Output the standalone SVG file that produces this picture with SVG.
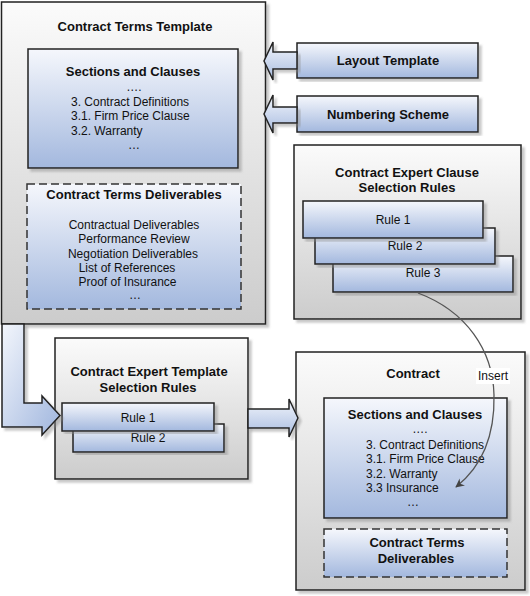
<svg xmlns="http://www.w3.org/2000/svg" width="530" height="596" viewBox="0 0 530 596">
<defs>
<linearGradient id="gBlue" x1="0" y1="0" x2="0" y2="1">
<stop offset="0" stop-color="#f5f7fc"/>
<stop offset="1" stop-color="#a3b8de"/>
</linearGradient>
<linearGradient id="gGray" x1="0" y1="0" x2="0" y2="1">
<stop offset="0" stop-color="#fbfbfb"/>
<stop offset="1" stop-color="#cccccc"/>
</linearGradient>
<linearGradient id="gArrow" x1="0" y1="0" x2="0" y2="1">
<stop offset="0" stop-color="#f3f6fc"/>
<stop offset="1" stop-color="#a8bce0"/>
</linearGradient>
<linearGradient id="gArrowL" x1="0" y1="0" x2="1" y2="1">
<stop offset="0" stop-color="#f3f6fc"/>
<stop offset="1" stop-color="#a0b6de"/>
</linearGradient>
<filter id="sh" x="-5%" y="-5%" width="115%" height="115%">
<feDropShadow dx="3" dy="3" stdDeviation="1" flood-color="#888" flood-opacity="0.45"/>
</filter>
<marker id="ah" viewBox="0 0 10 10" refX="9" refY="5" markerWidth="9" markerHeight="9" markerUnits="userSpaceOnUse" orient="auto">
<path d="M0,0 L10,5 L0,10 L3,5 Z" fill="#444"/>
</marker>
</defs>
<style>
.outer{fill:url(#gGray);stroke:#222;stroke-width:1.5;filter:url(#sh)}
.blue{fill:url(#gBlue);stroke:#222;stroke-width:1.5;filter:url(#sh)}
.dash{fill:url(#gBlue);stroke:#333;stroke-width:1.5;stroke-dasharray:8,4}
.arrow{fill:url(#gArrow);stroke:#222;stroke-width:1.5;stroke-linejoin:miter;filter:url(#sh)}
.t{font-family:"Liberation Sans",Arial,sans-serif;font-size:13px;font-weight:bold;fill:#111;text-anchor:middle}
.b{font-family:"Liberation Sans",Arial,sans-serif;font-size:12px;fill:#111}
.c{text-anchor:middle}
</style>
<rect width="530" height="596" fill="#fff"/>

<g id="contract-terms-template">
<rect class="outer" x="1.5" y="2" width="264" height="322"/>
<text class="t" x="135" y="31">Contract Terms Template</text>
<g id="sections-and-clauses-template">
<rect class="blue" x="28" y="49" width="210" height="119"/>
<text class="t" x="133" y="76">Sections and Clauses</text>
<text class="b c" x="134" y="91">….</text>
<text class="b" x="71" y="105.5">3. Contract Definitions</text>
<text class="b" x="71" y="120">3.1. Firm Price Clause</text>
<text class="b" x="71" y="134.5">3.2. Warranty</text>
<text class="b c" x="134" y="149">…</text>
</g>
<g id="contract-terms-deliverables-template">
<rect class="dash" x="27" y="184" width="214" height="125"/>
<text class="t" x="134" y="199">Contract Terms Deliverables</text>
<text class="b c" x="134" y="229">Contractual Deliverables</text>
<text class="b c" x="134" y="243">Performance Review</text>
<text class="b c" x="133" y="257.5">Negotiation Deliverables</text>
<text class="b c" x="127" y="272">List of References</text>
<text class="b c" x="127.5" y="286">Proof of Insurance</text>
<text class="b c" x="135" y="299">…</text>
</g>
</g>

<g id="layout-template">
<rect class="blue" x="297" y="43" width="181" height="35"/>
<text class="t" x="388" y="65">Layout Template</text>
</g>

<g id="numbering-scheme">
<rect class="blue" x="297" y="96" width="181" height="36"/>
<text class="t" x="388" y="118.5">Numbering Scheme</text>
</g>

<g id="contract-expert-clause-selection-rules">
<rect class="outer" x="294" y="145" width="227" height="174"/>
<text class="t" x="407" y="176.5">Contract Expert Clause</text>
<text class="t" x="407" y="192">Selection Rules</text>
<g id="clause-rule-3">
<rect class="blue" x="333" y="256" width="180" height="36"/>
<text class="b c" x="423" y="277">Rule 3</text>
</g>
<g id="clause-rule-2">
<rect class="blue" x="315" y="228" width="180" height="36"/>
<text class="b c" x="405" y="250">Rule 2</text>
</g>
<g id="clause-rule-1">
<rect class="blue" x="303" y="201" width="180" height="37"/>
<text class="b c" x="393" y="223.5">Rule 1</text>
</g>
</g>

<g id="contract-expert-template-selection-rules">
<rect class="outer" x="55" y="338" width="193" height="141"/>
<text class="t" x="149" y="376">Contract Expert Template</text>
<text class="t" x="148" y="392">Selection Rules</text>
<g id="template-rule-2">
<rect class="blue" x="73" y="424" width="151" height="28"/>
<text class="b c" x="148" y="442">Rule 2</text>
</g>
<g id="template-rule-1">
<rect class="blue" x="62" y="403" width="152" height="28"/>
<text class="b c" x="138" y="422">Rule 1</text>
</g>
</g>

<g id="contract">
<rect class="outer" x="296" y="352" width="229" height="238"/>
<text class="t" x="413" y="378">Contract</text>
<g id="sections-and-clauses-contract">
<rect class="blue" x="324" y="398" width="183" height="120"/>
<text class="t" x="415" y="418.5">Sections and Clauses</text>
<text class="b c" x="420" y="433">….</text>
<text class="b" x="366" y="448.5">3. Contract Definitions</text>
<text class="b" x="366" y="463">3.1. Firm Price Clause</text>
<text class="b" x="366" y="477.5">3.2. Warranty</text>
<text class="b" x="366" y="492">3.3 Insurance</text>
<text class="b c" x="413" y="506">…</text>
</g>
<g id="contract-terms-deliverables-contract">
<rect class="dash" x="324" y="529" width="183" height="48"/>
<text class="t" x="417" y="547">Contract Terms</text>
<text class="t" x="416" y="563">Deliverables</text>
</g>
</g>

<g id="connectors">
<polygon class="arrow" points="297,52 273,52 273,42 264,61 273,80 273,69 297,69"/>
<polygon class="arrow" points="297,107 273,107 273,95 264,114 273,133 273,123 297,123"/>
<polygon class="arrow" style="fill:url(#gArrowL)" points="2,324 24,324 24,403 42,403 42,396 60,415.5 42,435 42,427 2,427"/>
<polygon class="arrow" points="248,409 289,409 289,399 298,418 289,437 289,428 248,428"/>
<path d="M418,293 C466,311 493,350 494,395 C495,440 480,468 456,487" fill="none" stroke="#555" stroke-width="1.3" marker-end="url(#ah)"/>
<rect x="476" y="368" width="34" height="16" fill="#fff"/>
<text class="b c" x="493" y="380">Insert</text>
</g>
</svg>
